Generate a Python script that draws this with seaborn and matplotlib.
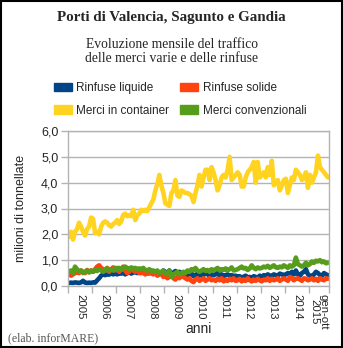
import numpy as np
import pandas as pd
import matplotlib
matplotlib.use("Agg")
import matplotlib.pyplot as plt
import seaborn as sns
from matplotlib.patches import Patch

series_names = ["Rinfuse liquide", "Rinfuse solide", "Merci in container", "Merci convenzionali"]
colors = ["#004586", "#ff420e", "#ffd320", "#579d1c"]
year_labels = ["2005", "2006", "2007", "2008", "2009", "2010", "2011", "2012", "2013", "2014", "gen-ott\n2015"]
months_per_year = [12, 12, 12, 12, 12, 12, 12, 12, 12, 12, 10]

rinfuse_liquide = [
    0.12,0.13,0.12,0.14,0.13,0.12,0.14,0.2,0.13,0.12,0.13,0.12,
    0.14,0.13,0.22,0.3,0.4,0.45,0.42,0.45,0.44,0.5,0.45,0.48,
    0.45,0.5,0.48,0.52,0.45,0.5,0.55,0.48,0.52,0.55,0.5,0.58,
    0.55,0.5,0.52,0.58,0.55,0.5,0.48,0.55,0.5,0.45,0.5,0.6,
    0.55,0.5,0.6,0.45,0.52,0.58,0.5,0.55,0.5,0.45,0.5,0.4,
    0.45,0.5,0.38,0.42,0.48,0.4,0.45,0.42,0.5,0.45,0.4,0.45,
    0.42,0.45,0.5,0.4,0.45,0.38,0.42,0.45,0.4,0.42,0.38,0.4,
    0.35,0.38,0.32,0.36,0.4,0.33,0.35,0.3,0.38,0.35,0.32,0.4,
    0.35,0.42,0.38,0.45,0.4,0.38,0.45,0.42,0.4,0.48,0.45,0.42,
    0.45,0.5,0.42,0.55,0.45,0.6,0.45,0.4,0.5,0.55,0.65,0.45,
    0.4,0.38,0.45,0.55,0.5,0.42,0.4,0.5,0.45,0.42,
]
rinfuse_solide = [
    0.5,0.4,0.45,0.5,0.55,0.5,0.6,0.55,0.5,0.62,0.55,0.6,
    0.55,0.65,0.75,0.8,0.7,0.65,0.6,0.7,0.55,0.65,0.72,0.6,
    0.7,0.55,0.65,0.75,0.6,0.5,0.55,0.7,0.6,0.55,0.65,0.5,
    0.5,0.55,0.45,0.5,0.48,0.52,0.45,0.5,0.4,0.45,0.5,0.35,
    0.4,0.3,0.35,0.45,0.3,0.25,0.35,0.3,0.4,0.35,0.3,0.25,
    0.3,0.2,0.15,0.25,0.3,0.2,0.25,0.3,0.2,0.25,0.3,0.22,
    0.25,0.2,0.28,0.22,0.3,0.18,0.25,0.2,0.28,0.22,0.3,0.2,
    0.22,0.28,0.18,0.25,0.2,0.3,0.22,0.18,0.25,0.2,0.28,0.22,
    0.18,0.25,0.22,0.3,0.2,0.28,0.22,0.25,0.3,0.2,0.25,0.3,
    0.25,0.2,0.35,0.3,0.22,0.28,0.3,0.25,0.2,0.3,0.28,0.22,
    0.25,0.3,0.22,0.28,0.2,0.3,0.25,0.22,0.3,0.28,
]
merci_container = [
    1.9,2.1,1.8,2.1,2.2,2.45,2.3,2.1,1.95,2.2,2.3,2.65,
    2.6,2.05,2.1,2.0,2.3,2.45,2.5,2.45,2.35,2.3,2.4,2.45,
    2.55,2.4,2.5,2.75,2.8,2.7,2.75,2.7,2.95,2.55,2.75,2.8,
    2.95,2.9,2.95,2.9,3.05,3.2,3.35,3.7,3.95,4.3,3.9,3.6,
    3.2,3.15,3.1,3.6,3.7,4.1,3.5,3.45,3.7,3.65,3.6,3.6,
    3.55,3.5,3.25,3.6,3.9,4.3,3.85,4.2,4.5,4.5,4.1,4.6,
    4.4,4.1,3.7,3.9,4.2,4.3,4.2,4.5,5.0,4.1,4.2,4.3,
    4.4,4.3,3.85,3.85,4.2,4.4,4.5,4.6,4.8,4.0,4.8,4.2,
    4.3,4.4,4.2,4.6,4.3,4.85,3.9,4.0,4.1,3.7,3.9,4.1,
    4.15,3.6,3.9,4.2,4.1,4.5,4.4,4.3,4.1,4.2,4.4,3.8,
    4.3,4.0,4.2,4.4,5.05,4.6,4.5,4.4,4.3,4.2,
]
merci_convenzionali = [
    0.55,0.6,0.5,0.75,0.65,0.55,0.6,0.5,0.55,0.6,0.52,0.6,
    0.55,0.62,0.58,0.65,0.6,0.55,0.62,0.68,0.6,0.65,0.6,0.7,
    0.65,0.7,0.62,0.68,0.75,0.7,0.65,0.72,0.68,0.7,0.65,0.68,
    0.65,0.7,0.62,0.6,0.65,0.58,0.6,0.55,0.6,0.5,0.55,0.6,
    0.5,0.45,0.6,0.35,0.45,0.5,0.55,0.45,0.5,0.55,0.5,0.6,
    0.55,0.65,0.6,0.7,0.6,0.55,0.6,0.65,0.58,0.62,0.55,0.65,
    0.6,0.65,0.7,0.6,0.65,0.62,0.68,0.6,0.65,0.72,0.6,0.62,
    0.65,0.7,0.75,0.68,0.7,0.62,0.68,0.8,0.7,0.65,0.72,0.68,
    0.7,0.75,0.72,0.78,0.7,0.75,0.8,0.72,0.7,0.75,0.72,0.8,
    0.75,0.7,0.8,0.75,0.8,1.1,0.85,0.8,0.75,0.8,0.9,0.8,
    0.85,0.95,0.9,0.98,0.95,1.0,0.92,0.95,0.88,0.9,
]

all_values = [rinfuse_liquide, rinfuse_solide, merci_container, merci_convenzionali]
n = len(merci_container)
rows = []
for name, vals in zip(series_names, all_values):
    for i, v in enumerate(vals):
        rows.append({"mese": i + 0.5, "valore": v, "serie": name})
df = pd.DataFrame(rows)

sns.set_theme(style="white")
plt.rcParams["font.family"] = ["Liberation Sans", "DejaVu Sans"]

fig = plt.figure(figsize=(3.43, 3.48), dpi=100)
fig.patch.set_facecolor("white")
ax = fig.add_axes([68/343, 1-286/348, (329-68)/343, (286-131)/348])

sns.lineplot(data=df, x="mese", y="valore", hue="serie", hue_order=series_names,
             palette=colors, linewidth=3.3, ax=ax, legend=False)

ax.set_xlim(0, n)
ax.set_ylim(0, 6)
ax.set_yticks(np.arange(0, 6.01, 1.0))
ax.set_yticklabels([f"{v:.1f}".replace(".", ",") for v in np.arange(0, 6.01, 1.0)], fontsize=9)
ax.yaxis.grid(True, color="#b3b3b3", linewidth=1)
ax.xaxis.grid(False)
for s in ax.spines.values():
    s.set_color("#b3b3b3")
    s.set_linewidth(1)

bounds = np.concatenate([[0], np.cumsum(months_per_year)])
centers = (bounds[:-1] + bounds[1:]) / 2
ax.set_xticks(bounds)
ax.set_xticklabels([""] * len(bounds))
ax.set_xticks(centers, minor=True)
ax.set_xticklabels(year_labels, minor=True, rotation=270, fontsize=8.2, va="top", ha="center", linespacing=0.85)
ax.tick_params(axis="x", which="major", length=5, color="#b3b3b3", width=1, direction="out", bottom=True)
ax.tick_params(axis="x", which="minor", length=0, pad=6)
ax.tick_params(axis="y", which="major", length=5, color="#b3b3b3", width=1, direction="out", left=True, pad=2)
ax.set_xlabel("anni", fontsize=10)
ax.xaxis.set_label_coords(0.5, (286 - 329) / 155, transform=ax.transAxes)
ax.xaxis.label.set_va("center")
ax.set_ylabel("milioni di tonnellate", fontsize=9, labelpad=10)

fig.text(0.5, 1-18/348, "Porti di Valencia, Sagunto e Gandia", ha="center", va="center",
         fontsize=10.8, fontweight="bold", family=["Liberation Serif", "DejaVu Serif"])
fig.text(0.5, 1-52/348, "Evoluzione mensile del traffico\ndelle merci varie e delle rinfuse", ha="center", va="center",
         fontsize=9.8, family=["Liberation Serif", "DejaVu Serif"], linespacing=1.1)
fig.text(8/343, 1-338/348, "(elab. inforMARE)", ha="left", va="center", fontsize=8.5,
         color="#555555", family=["Liberation Serif", "DejaVu Serif"])

handles = [Patch(facecolor=c, edgecolor=c, label=s) for c, s in zip(colors, series_names)]
order = [0, 2, 1, 3]
fig.legend(handles=[handles[i] for i in order], loc="center", bbox_to_anchor=(0.525, 1-99.5/348), ncol=2,
           frameon=False, fontsize=8.5, handlelength=1.5, handleheight=0.7, columnspacing=0.9,
           handletextpad=0.4, labelspacing=0.85)

border = plt.Rectangle((0.0015, 0.0015), 0.997, 0.997, transform=fig.transFigure, fill=False,
                       edgecolor="black", linewidth=1.5)
fig.patches.append(border)

fig.savefig("out.png", dpi=100)
